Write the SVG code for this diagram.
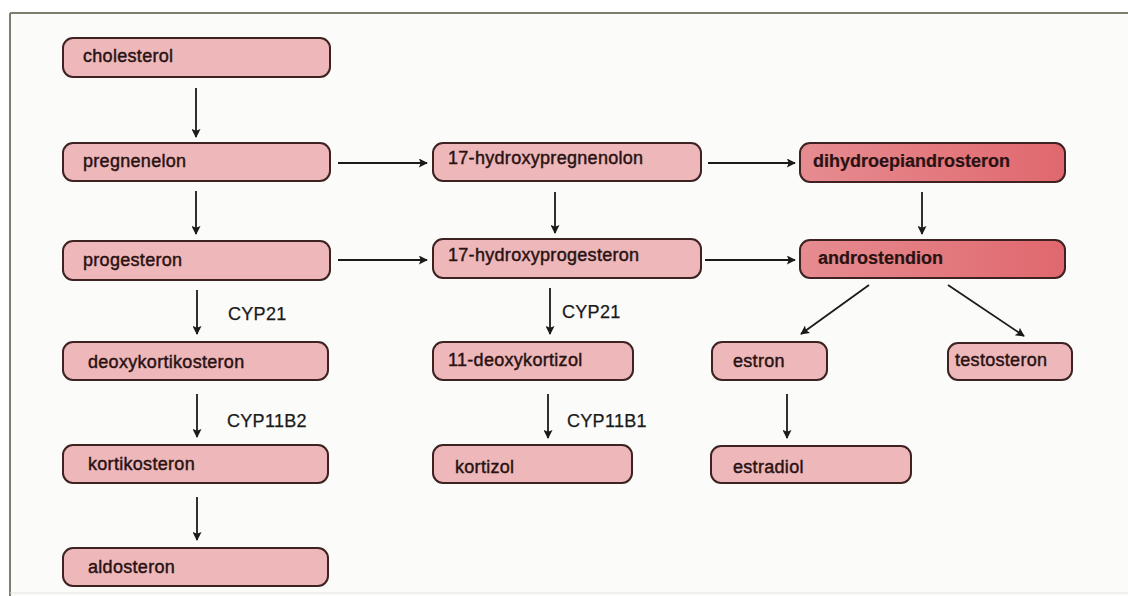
<svg xmlns="http://www.w3.org/2000/svg" width="1128" height="596" viewBox="0 0 1128 596">
<style>
.n{fill:#eeb8bb;stroke:#3e2222;stroke-width:2}
.d{fill:url(#g);stroke:#3e2222;stroke-width:2}
.t{font-family:"Liberation Sans",Arial,sans-serif;font-size:18px;letter-spacing:0.3px;fill:#2a1212;stroke:#2a1212;stroke-width:0.45}
.b{font-weight:bold;letter-spacing:0px;stroke-width:0.2}
.e{font-family:"Liberation Sans",Arial,sans-serif;font-size:18px;letter-spacing:0.3px;fill:#1a1a1a;stroke:#1a1a1a;stroke-width:0.25}
.c line{stroke:#1a1a1a;stroke-width:1.8;marker-end:url(#a)}
</style>
<defs>
<linearGradient id="g" x1="0" y1="0" x2="1" y2="0">
<stop offset="0" stop-color="#e68c91"/>
<stop offset="1" stop-color="#e0686e"/>
</linearGradient>
<marker id="a" viewBox="0 0 10 10" refX="9" refY="5" markerWidth="11" markerHeight="9" markerUnits="userSpaceOnUse" orient="auto">
<path d="M0,0 L10,5 L0,10 L2,5 Z" fill="#1a1a1a"/>
</marker>
</defs>
<rect x="0" y="0" width="1128" height="596" fill="#ffffff"/>
<rect x="10" y="13" width="1118" height="583" fill="#fbfbf9"/>
<line x1="10" y1="13" x2="1128" y2="13" stroke="#7d7d72" stroke-width="2"/>
<line x1="10" y1="13" x2="10" y2="596" stroke="#7d7d72" stroke-width="2"/>
<line x1="10" y1="593" x2="1128" y2="593" stroke="#e2e2e2" stroke-width="1"/>

<g class="c" id="connectors">
<line x1="196" y1="88" x2="196" y2="137"/>
<line x1="196" y1="191" x2="196" y2="234"/>
<line x1="197" y1="290" x2="197" y2="334"/>
<line x1="197" y1="394" x2="197" y2="437"/>
<line x1="197" y1="497" x2="197" y2="540"/>
<line x1="555" y1="192" x2="555" y2="233"/>
<line x1="550" y1="288" x2="550" y2="334"/>
<line x1="548" y1="394" x2="548" y2="438"/>
<line x1="787" y1="394" x2="787" y2="438"/>
<line x1="922" y1="192" x2="922" y2="234"/>
<line x1="869" y1="285" x2="801" y2="334"/>
<line x1="948" y1="285" x2="1024" y2="336"/>
<line x1="338" y1="163" x2="427" y2="163"/>
<line x1="708" y1="163" x2="795" y2="163"/>
<line x1="338" y1="260" x2="427" y2="260"/>
<line x1="705" y1="260" x2="795" y2="260"/>
</g>

<g id="labels">
<text class="e" x="228" y="320">CYP21</text>
<text class="e" x="562" y="318">CYP21</text>
<text class="e" x="227" y="427">CYP11B2</text>
<text class="e" x="567" y="427">CYP11B1</text>
</g>

<g id="cholesterol"><rect class="n" x="63" y="38" width="267" height="39" rx="10"/><text class="t" x="83" y="62">cholesterol</text></g>
<g id="pregnenelon"><rect class="n" x="63" y="143" width="267" height="38" rx="10"/><text class="t" x="83" y="167">pregnenelon</text></g>
<g id="progesteron"><rect class="n" x="63" y="241" width="267" height="39" rx="10"/><text class="t" x="83" y="266">progesteron</text></g>
<g id="deoxykortikosteron"><rect class="n" x="63" y="342" width="265" height="38" rx="10"/><text class="t" x="88" y="368">deoxykortikosteron</text></g>
<g id="kortikosteron"><rect class="n" x="63" y="445" width="265" height="38" rx="10"/><text class="t" x="88" y="470">kortikosteron</text></g>
<g id="aldosteron"><rect class="n" x="63" y="548" width="265" height="38" rx="10"/><text class="t" x="88" y="573">aldosteron</text></g>

<g id="hydroxypregnenolon"><rect class="n" x="433" y="143" width="268" height="38" rx="10"/><text class="t" x="448" y="164">17-hydroxypregnenolon</text></g>
<g id="hydroxyprogesteron"><rect class="n" x="433" y="239" width="268" height="39" rx="10"/><text class="t" x="448" y="261">17-hydroxyprogesteron</text></g>
<g id="deoxykortizol"><rect class="n" x="433" y="342" width="200" height="38" rx="10"/><text class="t" x="448" y="366">11-deoxykortizol</text></g>
<g id="kortizol"><rect class="n" x="433" y="445" width="199" height="38" rx="10"/><text class="t" x="455" y="473">kortizol</text></g>

<g id="dihydroepiandrosteron"><rect class="d" x="800" y="143" width="265" height="39" rx="10"/><text class="t b" x="813" y="167">dihydroepiandrosteron</text></g>
<g id="androstendion"><rect class="d" x="800" y="240" width="265" height="38" rx="10"/><text class="t b" x="818" y="264">androstendion</text></g>
<g id="estron"><rect class="n" x="712" y="342" width="115" height="38" rx="10"/><text class="t" x="733" y="367">estron</text></g>
<g id="testosteron"><rect class="n" x="948" y="343" width="124" height="37" rx="10"/><text class="t" x="955" y="366">testosteron</text></g>
<g id="estradiol"><rect class="n" x="711" y="446" width="200" height="37" rx="10"/><text class="t" x="733" y="473">estradiol</text></g>
</svg>
